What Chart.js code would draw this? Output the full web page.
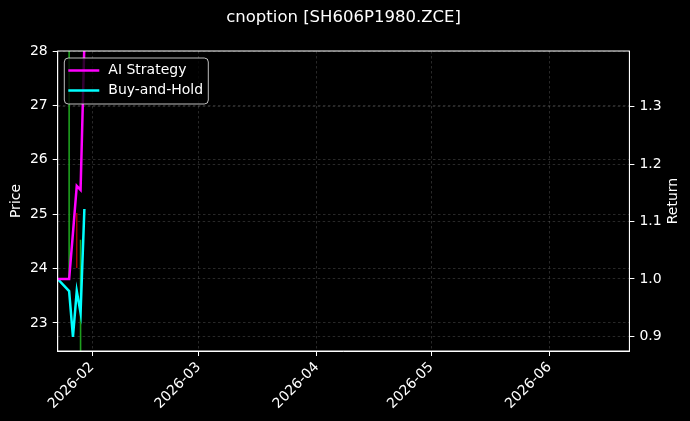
<!DOCTYPE html>
<html>
<head>
<meta charset="utf-8">
<script src="https://cdn.jsdelivr.net/npm/chart.js@4.4.1/dist/chart.umd.min.js"></script>
<style>
  html, body { margin: 0; padding: 0; background: #000; }
  canvas { display: block; }
</style>
</head>
<body>
<canvas id="chart" width="690" height="421"></canvas>
<script>
// trading days and returns (normalised to 1.0 on the first day)
const dates = ['2026-01-23', '2026-01-26', '2026-01-27', '2026-01-28', '2026-01-29', '2026-01-30'];
const aiStrategy = [1.0, 1.0, 1.08, 1.162, 1.155, 1.41];
const buyAndHold = [1.0, 0.979, 0.899, 0.979, 0.941, 1.122];

// buy / sell signal ranges on the price axis
const buyDates = ['2026-01-26', '2026-01-29'];
const buyLow = [23.83, 22.3];
const buyHigh = [28.6, 24.53];
const sellDates = ['2026-01-28'];
const sellLow = [24.01];
const sellHigh = [25.02];

const monthTicks = ['2026-02-01', '2026-03-01', '2026-04-01', '2026-05-01', '2026-06-01'];
const priceTicks = [23, 24, 25, 26, 27, 28];
const returnTicks = [0.9, 1.0, 1.1, 1.2, 1.3];
const xRange = ['2026-01-23', '2026-06-22'];
const priceRange = [22.485, 28.0];
const returnRange = [0.8746, 1.397];

const toMs = d => Date.parse(d + 'T00:00:00Z');

function signalSets(days, lows, highs, color, width) {
    return days.map((d, i) => ({
        data: [{x: toMs(d), y: lows[i]}, {x: toMs(d), y: highs[i]}],
        yAxisID: 'y',
        borderColor: color,
        borderWidth: width,
        pointRadius: 0,
        order: 3
    }));
}

const datasets = [
    {
        label: 'AI Strategy',
        data: dates.map((d, i) => ({x: toMs(d), y: aiStrategy[i]})),
        yAxisID: 'y2',
        borderColor: '#ff00ff',
        borderWidth: 2.5,
        pointRadius: 0,
        inLegend: true,
        order: 1
    },
    {
        label: 'Buy-and-Hold',
        data: dates.map((d, i) => ({x: toMs(d), y: buyAndHold[i]})),
        yAxisID: 'y2',
        borderColor: '#00ffff',
        borderWidth: 2.5,
        pointRadius: 0,
        inLegend: true,
        order: 2
    },
    ...signalSets(buyDates, buyLow, buyHigh, '#1ea01e', 1.6),
    ...signalSets(sellDates, sellLow, sellHigh, '#c00000', 1.3)
];

const FONT = 'DejaVu Sans';
const SIZE = 14;
const gridColor = 'rgba(150,150,150,0.45)';

// title, right-hand label, frame and boxed legend
const decor = {
    id: 'decor',
    afterDatasetsDraw(chart) {
        const ctx = chart.ctx, a = chart.chartArea;
        ctx.save();
        ctx.strokeStyle = '#ffffff';
        ctx.lineWidth = 1;
        ctx.strokeRect(a.left, a.top, a.right - a.left, a.bottom - a.top);

        ctx.fillStyle = '#ffffff';
        ctx.font = '16.5px "' + FONT + '"';
        ctx.textAlign = 'center';
        ctx.textBaseline = 'middle';
        ctx.fillText('cnoption [SH606P1980.ZCE]', (a.left + a.right) / 2, 18);

        ctx.font = SIZE + 'px "' + FONT + '"';
        ctx.save();
        ctx.translate(673, (a.top + a.bottom) / 2);
        ctx.rotate(-Math.PI / 2);
        ctx.fillText('Return', 0, 0);
        ctx.restore();

        const items = chart.data.datasets.filter(d => d.inLegend);
        const x = a.left + 6.6, y = a.top + 7, w = 144, h = 46;
        ctx.beginPath();
        ctx.roundRect(x, y, w, h, 4);
        ctx.fillStyle = 'rgba(0,0,0,0.8)';
        ctx.fill();
        ctx.strokeStyle = 'rgba(210,210,210,0.9)';
        ctx.stroke();
        ctx.textAlign = 'left';
        items.forEach((d, i) => {
            const cy = y + 12.5 + i * 20;
            ctx.beginPath();
            ctx.moveTo(x + 4, cy);
            ctx.lineTo(x + 35, cy);
            ctx.strokeStyle = d.borderColor;
            ctx.lineWidth = 2.5;
            ctx.stroke();
            ctx.fillStyle = '#ffffff';
            ctx.fillText(d.label, x + 44, cy);
        });
        ctx.restore();
    }
};

function fixSize(prop, size) {
    return s => {
        s[prop] = size;
        s.paddingLeft = s.paddingRight = s.paddingTop = s.paddingBottom = 0;
    };
}

const axisStyle = {
    border: {display: true, color: '#ffffff', width: 1, dash: [2.5, 2.5]},
    grid: {color: gridColor, lineWidth: 0.6, tickColor: '#ffffff', tickWidth: 1, tickLength: 5, tickBorderDash: []}
};

new Chart(document.getElementById('chart').getContext('2d'), {
    type: 'line',
    data: {datasets},
    options: {
        responsive: false,
        animation: false,
        devicePixelRatio: 1,
        layout: {padding: {top: 51, left: 0, right: 0, bottom: 0}},
        plugins: {legend: {display: false}, tooltip: {enabled: false}},
        scales: {
            x: {
                type: 'linear',
                min: toMs(xRange[0]),
                max: toMs(xRange[1]),
                ...axisStyle,
                afterBuildTicks: s => { s.ticks = monthTicks.map(d => ({value: toMs(d)})); },
                afterFit: fixSize('height', 70),
                ticks: {
                    color: '#ffffff',
                    font: {family: FONT, size: SIZE},
                    minRotation: 45,
                    maxRotation: 45,
                    padding: 3,
                    callback: v => new Date(v).toISOString().slice(0, 7)
                }
            },
            y: {
                type: 'linear',
                position: 'left',
                min: priceRange[0],
                max: priceRange[1],
                ...axisStyle,
                afterBuildTicks: s => { s.ticks = priceTicks.map(v => ({value: v})); },
                afterFit: fixSize('width', 57.7),
                ticks: {color: '#ffffff', font: {family: FONT, size: SIZE}, padding: 5, callback: v => String(v)},
                title: {display: true, text: 'Price', color: '#ffffff', font: {family: FONT, size: SIZE}, padding: {top: 8}}
            },
            y2: {
                type: 'linear',
                position: 'right',
                min: returnRange[0],
                max: returnRange[1],
                ...axisStyle,
                afterBuildTicks: s => { s.ticks = returnTicks.map(v => ({value: v})); },
                afterFit: fixSize('width', 60.6),
                ticks: {color: '#ffffff', font: {family: FONT, size: SIZE}, padding: 5, callback: v => v.toFixed(1)}
            }
        }
    },
    plugins: [decor]
});
</script>
</body>
</html>
